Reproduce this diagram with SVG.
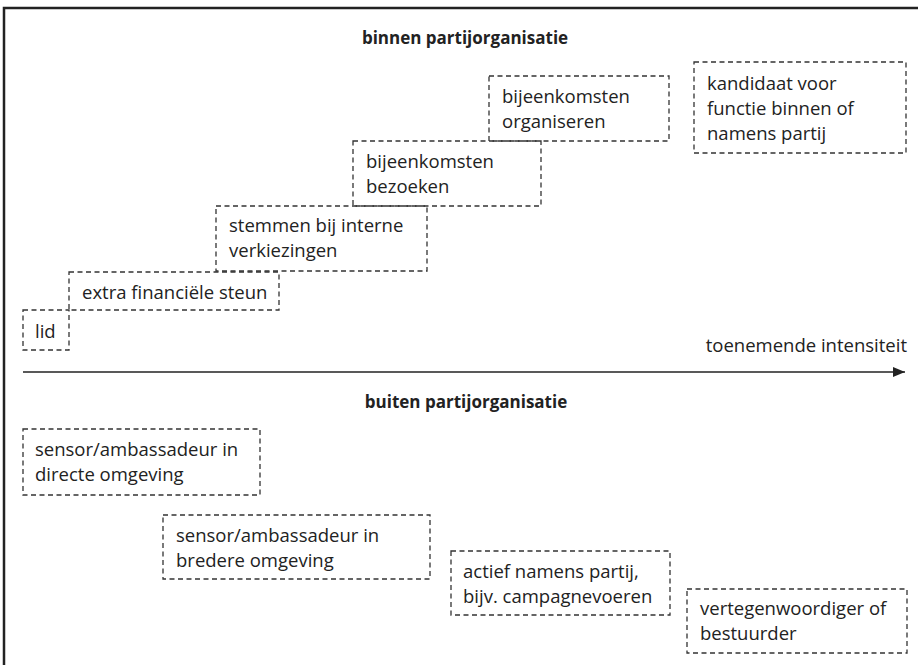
<svg xmlns="http://www.w3.org/2000/svg" width="918" height="665" viewBox="0 0 918 665">
<style>
.box{fill:none;stroke:#333;stroke-width:1.3;stroke-dasharray:5 3.5}
.t{font-family:"Open Sans","Noto Sans",sans-serif;font-size:18.5px;fill:#222}
.h{font-family:"Open Sans","Noto Sans",sans-serif;font-size:17px;font-weight:bold;fill:#222;text-anchor:middle}
</style>
<defs>
<marker id="arr" viewBox="0 0 10 10" refX="10" refY="5" markerWidth="12" markerHeight="10" markerUnits="userSpaceOnUse" orient="auto" preserveAspectRatio="none">
<path d="M0,0 L10,5 L0,10 Z" fill="#222"/>
</marker>
</defs>
<rect width="918" height="665" fill="#fff"/>
<path d="M4,665 V8 H918" fill="none" stroke="#222" stroke-width="2.5"/>
<text class="h" x="465" y="44">binnen partijorganisatie</text>
<text class="h" x="466" y="408">buiten partijorganisatie</text>
<text class="t" x="907" y="352" text-anchor="end">toenemende intensiteit</text>
<g id="connectors">
<line x1="23" y1="372" x2="905" y2="372" stroke="#222" stroke-width="1.6" marker-end="url(#arr)"/>
</g>
<g id="lid"><rect class="box" x="23" y="310" width="46" height="40"/><text class="t" x="35" y="338">lid</text></g>
<g id="financieel"><rect class="box" x="69" y="272" width="210" height="38"/><text class="t" x="82" y="299">extra financiële steun</text></g>
<g id="stemmen"><rect class="box" x="216" y="206" width="211" height="65"/><text class="t" x="229" y="232">stemmen bij interne</text><text class="t" x="229" y="257">verkiezingen</text></g>
<g id="bezoeken"><rect class="box" x="353" y="141" width="188" height="65"/><text class="t" x="366" y="168">bijeenkomsten</text><text class="t" x="366" y="193">bezoeken</text></g>
<g id="organiseren"><rect class="box" x="489" y="76" width="180" height="65"/><text class="t" x="502" y="103">bijeenkomsten</text><text class="t" x="502" y="128">organiseren</text></g>
<g id="kandidaat"><rect class="box" x="694" y="62" width="212" height="91"/><text class="t" x="707" y="90">kandidaat voor</text><text class="t" x="707" y="115">functie binnen of</text><text class="t" x="707" y="140">namens partij</text></g>
<g id="directe"><rect class="box" x="23" y="429" width="237" height="66"/><text class="t" x="35" y="456">sensor/ambassadeur in</text><text class="t" x="35" y="481">directe omgeving</text></g>
<g id="bredere"><rect class="box" x="163" y="515" width="267" height="64"/><text class="t" x="176" y="542">sensor/ambassadeur in</text><text class="t" x="176" y="567">bredere omgeving</text></g>
<g id="actief"><rect class="box" x="451" y="551" width="219" height="64"/><text class="t" x="463" y="578">actief namens partij,</text><text class="t" x="463" y="603">bijv. campagnevoeren</text></g>
<g id="vertegenwoordiger"><rect class="box" x="687" y="589" width="220" height="64"/><text class="t" x="700" y="615">vertegenwoordiger of</text><text class="t" x="700" y="640">bestuurder</text></g>
</svg>
